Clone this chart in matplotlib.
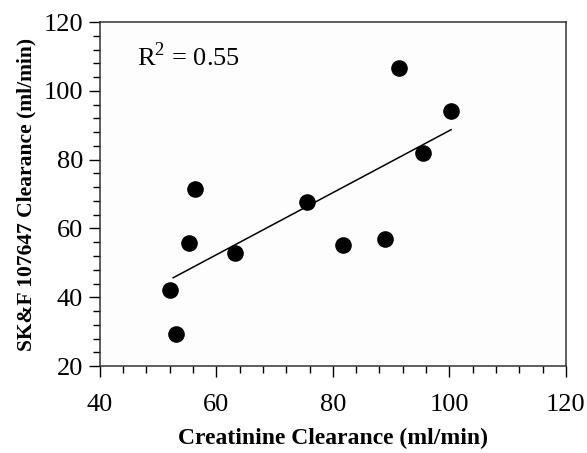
import numpy as np
import matplotlib
matplotlib.use("Agg")
import matplotlib.pyplot as plt
from matplotlib.ticker import MultipleLocator

plt.rcParams["font.family"] = ["Liberation Serif", "DejaVu Serif"]
plt.rcParams["mathtext.fontset"] = "custom"
plt.rcParams["mathtext.rm"] = "Liberation Serif"

# Creatinine clearance vs SK&F 107647 clearance (ml/min)
creatinine = [52.0, 53.0, 55.3, 56.4, 63.2, 75.6, 81.8, 88.9, 91.3, 95.4, 100.3]
skf_clearance = [42.1, 29.3, 55.8, 71.5, 52.9, 67.6, 55.2, 56.9, 106.8, 82.0, 94.1]

x = np.array(creatinine)
y = np.array(skf_clearance)
slope, intercept = np.polyfit(x, y, 1)
x_fit = np.array([x.min() + 0.6, x.max()])

fig = plt.figure(figsize=(5.87, 4.53), dpi=100)
fig.patch.set_facecolor("white")
ax = fig.add_axes([0.170, 0.192, 0.794, 0.759])
ax.set_facecolor("#fdfdfd")

ax.scatter(x, y, s=120, color="black", zorder=3)
ax.plot(x_fit, intercept + slope * x_fit, color="black", lw=1.1)

ax.set_xlim(40, 120)
ax.set_ylim(20, 120)
ax.xaxis.set_major_locator(MultipleLocator(20))
ax.xaxis.set_minor_locator(MultipleLocator(4))
ax.yaxis.set_major_locator(MultipleLocator(20))
ax.yaxis.set_minor_locator(MultipleLocator(4))
ax.tick_params(which="major", direction="out", length=8, width=1, labelsize=19)
ax.tick_params(axis="x", which="major", pad=12)
ax.tick_params(axis="y", which="major", pad=4)
ax.tick_params(which="minor", direction="out", length=5, width=1)
for s in ax.spines.values():
    s.set_color("#333333")
    s.set_linewidth(1.1)

ax.set_xlabel("Creatinine Clearance (ml/min)", fontsize=17, fontweight="bold", labelpad=9)
ax.set_ylabel("SK&F 107647 Clearance (ml/min)", fontsize=15.5, fontweight="bold", labelpad=5)

ax.text(0.08, 0.9, r"R$^{2}$ = 0.55", transform=ax.transAxes, fontsize=19, va="center")

fig.savefig("out.png", dpi=100)
